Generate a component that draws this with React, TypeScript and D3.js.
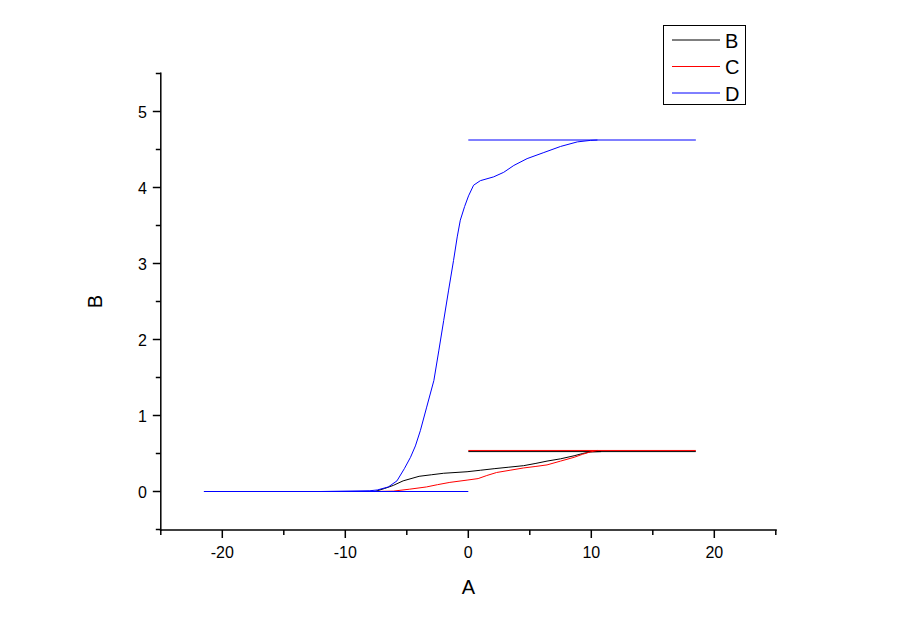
import React, { useEffect, useRef } from 'react';
import * as d3 from 'd3';

type Pt = [number, number];

// series B (black): baseline, rising curve, plateau
const bCurve: Pt[] = [
  [-16, 0], [-12, 0], [-7.6, 0], [-6.8, 0.04], [-6.1, 0.08], [-5.3, 0.14], [-4.0, 0.2],
  [-3.0, 0.22], [-2.0, 0.24], [-0.1, 0.26], [1.0, 0.28], [2.1, 0.3], [3.3, 0.32],
  [4.5, 0.34], [5.5, 0.37], [6.4, 0.4], [7.5, 0.43], [8.6, 0.47], [9.3, 0.5],
  [9.9, 0.52], [10.8, 0.525],
];
const bPlateau: Pt[] = [[0, 0.525], [18.5, 0.525]];

// series C (red)
const cCurve: Pt[] = [
  [-16, 0], [-12, 0], [-7.6, 0], [-6.1, 0.005], [-4.8, 0.03], [-3.4, 0.06], [-2.5, 0.09],
  [-1.5, 0.12], [-0.1, 0.15], [0.8, 0.17], [1.5, 0.21], [2.3, 0.25], [3.4, 0.28],
  [4.5, 0.31], [5.5, 0.33], [6.4, 0.35], [7.5, 0.4], [8.6, 0.45], [9.3, 0.49],
  [9.9, 0.52], [10.5, 0.54],
];
const cPlateau: Pt[] = [[0, 0.54], [18.5, 0.54]];

// series D (blue)
const dCurve: Pt[] = [
  [-16, 0], [-12, 0], [-8, 0.01], [-7.4, 0.02], [-6.5, 0.06], [-5.8, 0.14], [-5.2, 0.3],
  [-4.7, 0.45], [-4.3, 0.6], [-3.9, 0.8], [-3.4, 1.1], [-2.8, 1.46], [-2.4, 1.85],
  [-2.0, 2.25], [-1.6, 2.65], [-1.2, 3.04], [-0.9, 3.35], [-0.65, 3.57], [-0.3, 3.75],
  [0.02, 3.89], [0.43, 4.03], [0.98, 4.09], [2.06, 4.14], [2.88, 4.2], [3.7, 4.29],
  [4.78, 4.38], [6.14, 4.46], [7.5, 4.54], [8.86, 4.6], [9.94, 4.62], [10.5, 4.625],
];
const dBase: Pt[] = [[-21.5, 0], [0, 0]];
const dPlateau: Pt[] = [[0, 4.625], [18.5, 4.625]];

const seriesNames = ['B', 'C', 'D'];
const seriesColors = ['#000000', '#ff0000', '#0000ff'];
const seriesSegments: Pt[][][] = [
  [bCurve, bPlateau],
  [cCurve, cPlateau],
  [dBase, dCurve, dPlateau],
];

const xMajor = [-20, -10, 0, 10, 20];
const xMinor = [-25, -15, -5, 5, 15, 25];
const yMajor = [0, 1, 2, 3, 4, 5];
const yMinor = [-0.5, 0.5, 1.5, 2.5, 3.5, 4.5, 5.5];

const App = () => {
  const svgRef = useRef<SVGSVGElement>(null);

  useEffect(() => {
    const svg = d3.select(svgRef.current);
    svg.selectAll('*').remove();

    const width = 900;
    const height = 636;
    const font = 'Liberation Sans, Arial, sans-serif';

    svg.attr('width', width).attr('height', height);

    const x = d3.scaleLinear().domain([-25, 25]).range([160.8, 775.8]);
    const y = d3.scaleLinear().domain([-0.5, 5.5]).range([529.5, 73.5]);

    // lines
    const line = d3.line<Pt>().x(d => x(d[0])).y(d => y(d[1]));
    seriesSegments.forEach((segs, i) => {
      segs.forEach(seg => {
        svg.append('path')
          .datum(seg)
          .attr('fill', 'none')
          .attr('stroke', seriesColors[i])
          .attr('stroke-width', 1)
          .attr('d', line);
      });
    });

    // X axis
    const gx = svg.append('g').attr('transform', `translate(0, ${y(-0.5) + 0.5})`);
    gx.append('line')
      .attr('x1', x(-25) - 1).attr('x2', x(25) + 1)
      .attr('stroke', '#000').attr('stroke-width', 1.5);
    gx.selectAll('.maj').data(xMajor).enter().append('line')
      .attr('x1', d => x(d)).attr('x2', d => x(d))
      .attr('y1', 0).attr('y2', 8)
      .attr('stroke', '#000').attr('stroke-width', 1.5);
    gx.selectAll('.min').data(xMinor).enter().append('line')
      .attr('x1', d => x(d)).attr('x2', d => x(d))
      .attr('y1', 0).attr('y2', 5)
      .attr('stroke', '#000').attr('stroke-width', 1.5);
    gx.selectAll('text').data(xMajor).enter().append('text')
      .attr('x', d => x(d))
      .attr('y', 28)
      .attr('text-anchor', 'middle')
      .attr('font-family', font)
      .attr('font-size', 16)
      .text(d => String(d));
    svg.append('text')
      .attr('x', x(0))
      .attr('y', 594)
      .attr('text-anchor', 'middle')
      .attr('font-family', font)
      .attr('font-size', 20)
      .text('A');

    // Y axis
    const gy = svg.append('g').attr('transform', `translate(${x(-25)}, 0)`);
    gy.append('line')
      .attr('y1', y(5.5) - 1).attr('y2', y(-0.5) + 1.5)
      .attr('stroke', '#000').attr('stroke-width', 1.5);
    gy.selectAll('.maj').data(yMajor).enter().append('line')
      .attr('y1', d => y(d)).attr('y2', d => y(d))
      .attr('x1', 0).attr('x2', -8)
      .attr('stroke', '#000').attr('stroke-width', 1.5);
    gy.selectAll('.min').data(yMinor).enter().append('line')
      .attr('y1', d => y(d)).attr('y2', d => y(d))
      .attr('x1', 0).attr('x2', -5)
      .attr('stroke', '#000').attr('stroke-width', 1.5);
    gy.selectAll('text').data(yMajor).enter().append('text')
      .attr('x', -14)
      .attr('y', d => y(d) + 6)
      .attr('text-anchor', 'end')
      .attr('font-family', font)
      .attr('font-size', 16)
      .text(d => String(d));
    svg.append('text')
      .attr('transform', `translate(102, ${y(2.5)}) rotate(-90)`)
      .attr('text-anchor', 'middle')
      .attr('font-family', font)
      .attr('font-size', 20)
      .text('B');

    // legend
    const lg = svg.append('g');
    lg.append('rect')
      .attr('x', 663.5).attr('y', 25.5)
      .attr('width', 82).attr('height', 79)
      .attr('fill', 'none').attr('stroke', '#000').attr('stroke-width', 1);
    seriesNames.forEach((name, i) => {
      const ly = 40 + i * 26.5;
      lg.append('line')
        .attr('x1', 672).attr('x2', 720)
        .attr('y1', ly).attr('y2', ly)
        .attr('stroke', seriesColors[i]).attr('stroke-width', 1);
      lg.append('text')
        .attr('x', 725).attr('y', ly + 7.5)
        .attr('font-family', font)
        .attr('font-size', 20)
        .text(name);
    });
  }, []);

  return (
    <div style={{ position: 'absolute', left: 0, top: 0 }}>
      <svg ref={svgRef}></svg>
    </div>
  );
};

export default App;
